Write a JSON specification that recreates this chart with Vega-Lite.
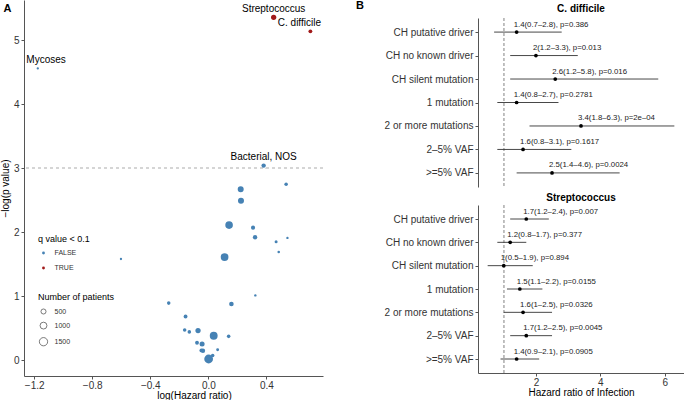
{
  "$schema": "https://vega.github.io/schema/vega-lite/v6.json",
  "padding": {"left": 0, "top": 0, "right": 0, "bottom": 0},
  "background": "white",
  "config": {
    "font": "Liberation Sans",
    "view": {"stroke": null},
    "axis": {
      "grid": false,
      "domainColor": "#555555",
      "tickColor": "#555555",
      "tickSize": 3,
      "labelColor": "#333333",
      "labelFontSize": 10,
      "labelPadding": 2,
      "titleFontSize": 10,
      "titleFontWeight": "normal",
      "titleColor": "#000000"
    },
    "legend": {"padding": 0, "titleFontWeight": "normal", "titleFontSize": 9, "labelFontSize": 7, "labelColor": "#333333"},
    "title": {"font": "Liberation Sans"}
  },
  "datasets": {
    "volcano": [
      {"label": "Streptococcus", "loghr": 0.45, "nlogp": 5.36, "patients": 550, "q": "TRUE"},
      {"label": "C. difficile", "loghr": 0.703, "nlogp": 5.14, "patients": 250, "q": "TRUE"},
      {"label": "Mycoses", "loghr": -1.175, "nlogp": 4.56, "patients": 30, "q": "FALSE"},
      {"label": "Bacterial, NOS", "loghr": 0.381, "nlogp": 3.04, "patients": 350, "q": "FALSE"},
      {"label": "", "loghr": 0.536, "nlogp": 2.75, "patients": 200, "q": "FALSE"},
      {"label": "", "loghr": 0.223, "nlogp": 2.67, "patients": 750, "q": "FALSE"},
      {"label": "", "loghr": 0.225, "nlogp": 2.49, "patients": 750, "q": "FALSE"},
      {"label": "", "loghr": 0.143, "nlogp": 2.11, "patients": 1250, "q": "FALSE"},
      {"label": "", "loghr": 0.308, "nlogp": 2.07, "patients": 300, "q": "FALSE"},
      {"label": "", "loghr": 0.322, "nlogp": 1.92, "patients": 350, "q": "FALSE"},
      {"label": "", "loghr": 0.467, "nlogp": 1.85, "patients": 120, "q": "FALSE"},
      {"label": "", "loghr": 0.545, "nlogp": 1.91, "patients": 40, "q": "FALSE"},
      {"label": "", "loghr": 0.485, "nlogp": 1.69, "patients": 60, "q": "FALSE"},
      {"label": "", "loghr": 0.112, "nlogp": 1.61, "patients": 1300, "q": "FALSE"},
      {"label": "", "loghr": -0.602, "nlogp": 1.58, "patients": 30, "q": "FALSE"},
      {"label": "", "loghr": 0.324, "nlogp": 1.01, "patients": 40, "q": "FALSE"},
      {"label": "", "loghr": -0.273, "nlogp": 0.89, "patients": 200, "q": "FALSE"},
      {"label": "", "loghr": 0.159, "nlogp": 0.875, "patients": 400, "q": "FALSE"},
      {"label": "", "loghr": -0.157, "nlogp": 0.68, "patients": 250, "q": "FALSE"},
      {"label": "", "loghr": -0.163, "nlogp": 0.47, "patients": 200, "q": "FALSE"},
      {"label": "", "loghr": -0.131, "nlogp": 0.44, "patients": 200, "q": "FALSE"},
      {"label": "", "loghr": -0.071, "nlogp": 0.46, "patients": 550, "q": "FALSE"},
      {"label": "", "loghr": 0.037, "nlogp": 0.38, "patients": 1350, "q": "FALSE"},
      {"label": "", "loghr": 0.14, "nlogp": 0.37, "patients": 200, "q": "FALSE"},
      {"label": "", "loghr": -0.078, "nlogp": 0.27, "patients": 250, "q": "FALSE"},
      {"label": "", "loghr": -0.043, "nlogp": 0.25, "patients": 500, "q": "FALSE"},
      {"label": "", "loghr": -0.048, "nlogp": 0.15, "patients": 250, "q": "FALSE"},
      {"label": "", "loghr": -0.037, "nlogp": 0.145, "patients": 350, "q": "FALSE"},
      {"label": "", "loghr": 0.064, "nlogp": 0.16, "patients": 100, "q": "FALSE"},
      {"label": "", "loghr": 0.03, "nlogp": 0.07, "patients": 200, "q": "FALSE"},
      {"label": "", "loghr": 0.002, "nlogp": 0.016, "patients": 1700, "q": "FALSE"}
    ],
    "forest": [
      {"infection": "C. difficile", "variable": "CH putative driver", "hr": 1.4, "lo": 0.7, "hi": 2.8, "label": "1.4(0.7–2.8), p=0.386"},
      {"infection": "C. difficile", "variable": "CH no known driver", "hr": 2.0, "lo": 1.2, "hi": 3.3, "label": "2(1.2–3.3), p=0.013"},
      {"infection": "C. difficile", "variable": "CH silent mutation", "hr": 2.6, "lo": 1.2, "hi": 5.8, "label": "2.6(1.2–5.8), p=0.016"},
      {"infection": "C. difficile", "variable": "1 mutation", "hr": 1.4, "lo": 0.8, "hi": 2.7, "label": "1.4(0.8–2.7), p=0.2781"},
      {"infection": "C. difficile", "variable": "2 or more mutations", "hr": 3.4, "lo": 1.8, "hi": 6.3, "label": "3.4(1.8–6.3), p=2e–04"},
      {"infection": "C. difficile", "variable": "2–5% VAF", "hr": 1.6, "lo": 0.8, "hi": 3.1, "label": "1.6(0.8–3.1), p=0.1617"},
      {"infection": "C. difficile", "variable": ">=5% VAF", "hr": 2.5, "lo": 1.4, "hi": 4.6, "label": "2.5(1.4–4.6), p=0.0024"},
      {"infection": "Streptococcus", "variable": "CH putative driver", "hr": 1.7, "lo": 1.2, "hi": 2.4, "label": "1.7(1.2–2.4), p=0.007"},
      {"infection": "Streptococcus", "variable": "CH no known driver", "hr": 1.2, "lo": 0.8, "hi": 1.7, "label": "1.2(0.8–1.7), p=0.377"},
      {"infection": "Streptococcus", "variable": "CH silent mutation", "hr": 1.0, "lo": 0.5, "hi": 1.9, "label": "1(0.5–1.9), p=0.894"},
      {"infection": "Streptococcus", "variable": "1 mutation", "hr": 1.5, "lo": 1.1, "hi": 2.2, "label": "1.5(1.1–2.2), p=0.0155"},
      {"infection": "Streptococcus", "variable": "2 or more mutations", "hr": 1.6, "lo": 1.0, "hi": 2.5, "label": "1.6(1–2.5), p=0.0326"},
      {"infection": "Streptococcus", "variable": "2–5% VAF", "hr": 1.7, "lo": 1.2, "hi": 2.5, "label": "1.7(1.2–2.5), p=0.0045"},
      {"infection": "Streptococcus", "variable": ">=5% VAF", "hr": 1.4, "lo": 0.9, "hi": 2.1, "label": "1.4(0.9–2.1), p=0.0905"}
    ],
    "header": [{"panel": "C. difficile"}, {"panel": "Streptococcus"}]
  },
  "columns": 2,
  "align": "none",
  "spacing": 32,
  "concat": [
    {
      "title": {"text": "A", "anchor": "start", "frame": "bounds", "fontSize": 11, "fontWeight": "bold", "offset": -14, "dx": 3},
      "width": 299,
      "height": 376,
      "data": {"name": "volcano"},
      "layer": [
        {
          "mark": {"type": "rule", "strokeDash": [3, 3], "color": "#d4d4d4", "strokeWidth": 0.8},
          "encoding": {"y": {"datum": 3, "type": "quantitative"}}
        },
        {
          "mark": {"type": "circle", "opacity": 1},
          "encoding": {
            "x": {"field": "loghr", "type": "quantitative", "scale": {"domain": [-1.27, 0.79], "nice": false, "zero": false},
              "axis": {"values": [-1.2, -0.8, -0.4, 0, 0.4], "format": ".1f", "title": "log(Hazard ratio)", "labelPadding": 1, "titlePadding": 0, "titleX": 170}},
            "y": {"field": "nlogp", "type": "quantitative", "scale": {"domain": [-0.25, 5.63], "nice": false, "zero": false},
              "axis": {"values": [0, 1, 2, 3, 4, 5], "format": "d", "title": "−log(p value)", "titlePadding": 3}},
            "size": {"field": "patients", "type": "quantitative", "scale": {"domain": [0, 1700], "range": [4, 77]},
              "legend": {"title": "Number of patients", "values": [500, 1000, 1500], "format": "d", "orient": "none", "legendX": 14, "legendY": 293,
                "symbolFillColor": "white", "symbolStrokeColor": "#444444", "symbolStrokeWidth": 0.7, "symbolType": "circle",
                "titlePadding": 6, "rowPadding": 4.6, "symbolOffset": 1, "labelOffset": 6.5}},
            "color": {"field": "q", "type": "nominal", "scale": {"domain": ["FALSE", "TRUE"], "range": ["#4682B4", "#A11A1A"]},
              "legend": {"title": "q value < 0.1", "orient": "none", "legendX": 14, "legendY": 234.5, "symbolSize": 8, "symbolType": "circle",
                "titlePadding": 6, "rowPadding": 7, "symbolOffset": 2, "labelOffset": 7.5}}
          }
        },
        {
          "transform": [{"filter": "datum.label === 'Streptococcus' || datum.label === 'Bacterial, NOS'"}],
          "mark": {"type": "text", "fontSize": 10, "dy": -8.7, "align": "center", "baseline": "middle", "color": "#000000"},
          "encoding": {"x": {"field": "loghr", "type": "quantitative"}, "y": {"field": "nlogp", "type": "quantitative"}, "text": {"field": "label"}}
        },
        {
          "transform": [{"filter": "datum.label === 'C. difficile'"}],
          "mark": {"type": "text", "fontSize": 10, "dy": -8.3, "dx": -11, "align": "center", "baseline": "middle", "color": "#000000"},
          "encoding": {"x": {"field": "loghr", "type": "quantitative"}, "y": {"field": "nlogp", "type": "quantitative"}, "text": {"field": "label"}}
        },
        {
          "transform": [{"filter": "datum.label === 'Mycoses'"}],
          "mark": {"type": "text", "fontSize": 10, "dy": -8.4, "dx": 8.3, "align": "center", "baseline": "middle", "color": "#000000"},
          "encoding": {"x": {"field": "loghr", "type": "quantitative"}, "y": {"field": "nlogp", "type": "quantitative"}, "text": {"field": "label"}}
        }
      ]
    },
    {
      "title": {"text": "B", "anchor": "start", "frame": "bounds", "fontSize": 11, "fontWeight": "bold", "offset": -11, "dx": -28},
      "spacing": 0,
      "vconcat": [
        {
          "width": 206,
          "height": 16.5,
          "data": {"name": "header"},
          "transform": [{"filter": "datum.panel === 'C. difficile'"}],
          "mark": {"type": "text", "fontSize": 10, "fontWeight": "bold", "baseline": "middle", "align": "center", "dy": 0.75, "color": "#000000"},
          "encoding": {"text": {"field": "panel"}}
        },
        {
          "width": 206,
          "height": 169,
          "data": {"name": "forest"},
          "transform": [{"filter": "datum.infection === 'C. difficile'"}],
          "layer": [
            {
              "mark": {"type": "rule", "strokeDash": [3, 2], "color": "#bbbbbb", "strokeWidth": 0.8},
              "encoding": {"x": {"datum": 1, "type": "quantitative", "scale": {"domain": [0.2, 6.6], "nice": false, "zero": false}, "axis": null}}
            },
            {
              "mark": {"type": "rule", "color": "#333333", "strokeWidth": 0.9},
              "encoding": {
                "x": {"field": "lo", "type": "quantitative", "scale": {"domain": [0.2, 6.6], "nice": false, "zero": false}, "axis": null},
                "x2": {"field": "hi"},
                "y": {"field": "variable", "type": "nominal", "scale": {"type": "point", "padding": 0.6, "domain": ["CH putative driver", "CH no known driver", "CH silent mutation", "1 mutation", "2 or more mutations", "2–5% VAF", ">=5% VAF"]}, "axis": {"title": null}}
              }
            },
            {
              "mark": {"type": "circle", "color": "#000000", "opacity": 1, "size": 14},
              "encoding": {"x": {"field": "hr", "type": "quantitative"}, "y": {"field": "variable", "type": "nominal"}}
            },
            {
              "mark": {"type": "text", "fontSize": 7.8, "align": "left", "dx": -3, "dy": -7.5, "baseline": "middle", "color": "#222222"},
              "encoding": {"x": {"field": "hr", "type": "quantitative"}, "y": {"field": "variable", "type": "nominal"}, "text": {"field": "label"}}
            }
          ]
        },
        {
          "width": 206,
          "height": 16,
          "data": {"name": "header"},
          "transform": [{"filter": "datum.panel === 'Streptococcus'"}],
          "mark": {"type": "text", "fontSize": 10, "fontWeight": "bold", "baseline": "middle", "align": "center", "dy": 2, "color": "#000000"},
          "encoding": {"text": {"field": "panel"}}
        },
        {
          "width": 206,
          "height": 168,
          "data": {"name": "forest"},
          "transform": [{"filter": "datum.infection === 'Streptococcus'"}],
          "layer": [
            {
              "mark": {"type": "rule", "strokeDash": [3, 2], "color": "#bbbbbb", "strokeWidth": 0.8},
              "encoding": {"x": {"datum": 1, "type": "quantitative", "scale": {"domain": [0.2, 6.6], "nice": false, "zero": false},
                "axis": {"values": [2, 4, 6], "format": "d", "title": "Hazard ratio of Infection", "labelPadding": 1, "titlePadding": 0}}}
            },
            {
              "mark": {"type": "rule", "color": "#333333", "strokeWidth": 0.9},
              "encoding": {
                "x": {"field": "lo", "type": "quantitative"},
                "x2": {"field": "hi"},
                "y": {"field": "variable", "type": "nominal", "scale": {"type": "point", "padding": 0.6, "domain": ["CH putative driver", "CH no known driver", "CH silent mutation", "1 mutation", "2 or more mutations", "2–5% VAF", ">=5% VAF"]}, "axis": {"title": null}}
              }
            },
            {
              "mark": {"type": "circle", "color": "#000000", "opacity": 1, "size": 14},
              "encoding": {"x": {"field": "hr", "type": "quantitative"}, "y": {"field": "variable", "type": "nominal"}}
            },
            {
              "mark": {"type": "text", "fontSize": 7.8, "align": "left", "dx": -3, "dy": -7.5, "baseline": "middle", "color": "#222222"},
              "encoding": {"x": {"field": "hr", "type": "quantitative"}, "y": {"field": "variable", "type": "nominal"}, "text": {"field": "label"}}
            }
          ]
        }
      ]
    }
  ]
}
